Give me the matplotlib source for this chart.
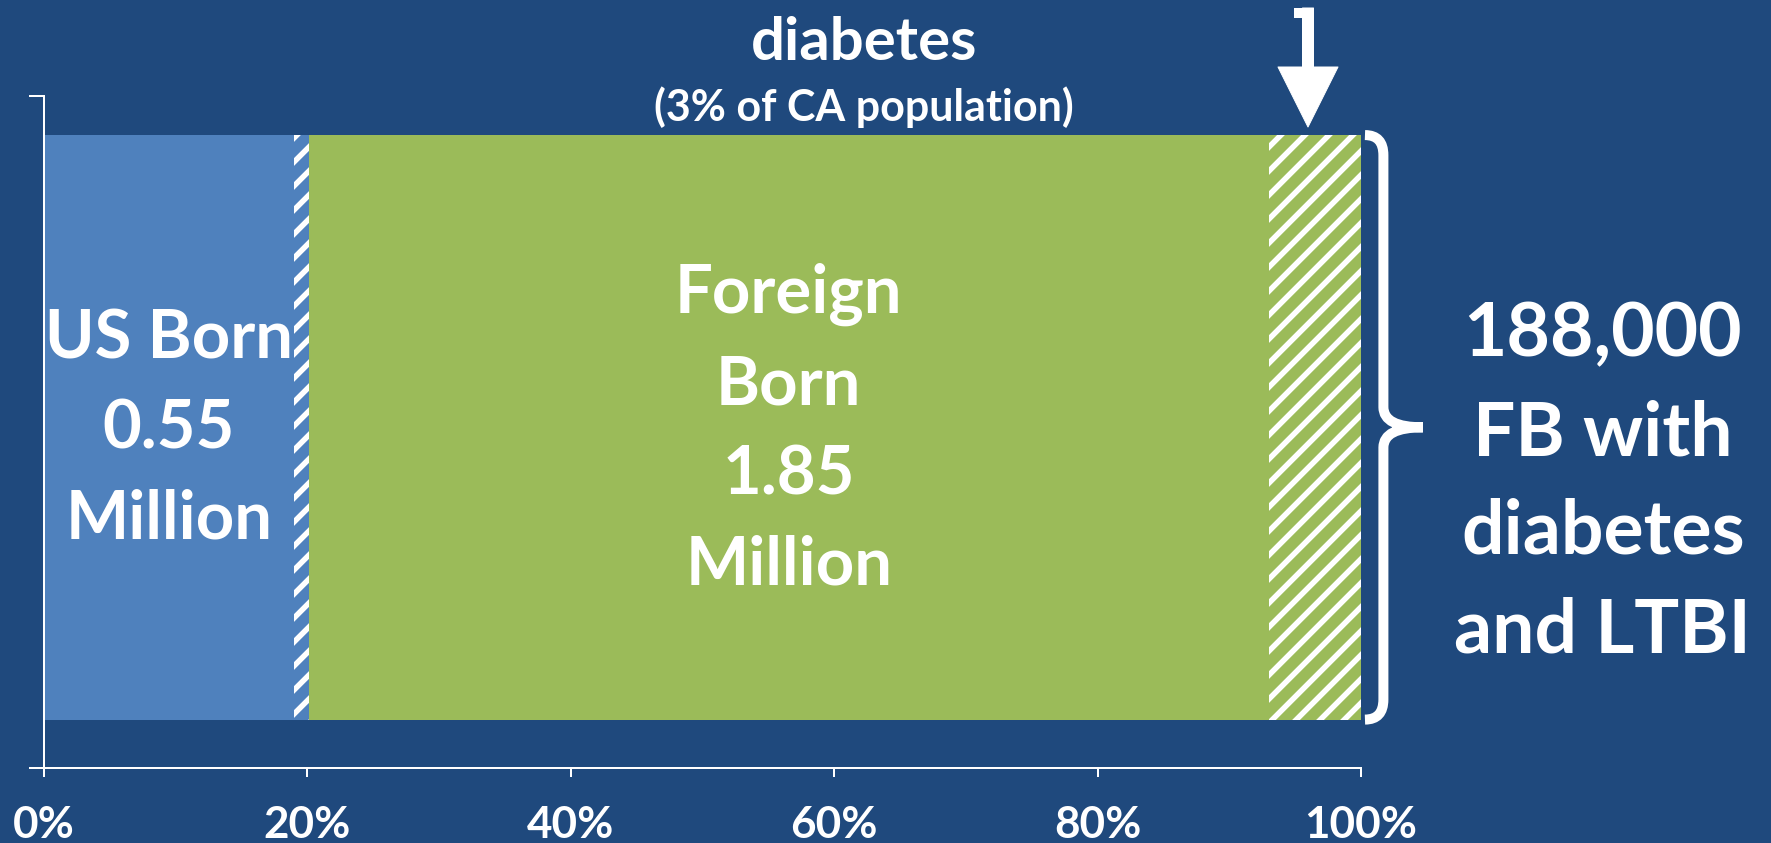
import numpy as np
import matplotlib.pyplot as plt
import matplotlib.transforms as mtransforms
from matplotlib.path import Path
from matplotlib.patches import PathPatch

plt.rcParams['font.family'] = ['Lato', 'DejaVu Sans']
plt.rcParams['font.weight'] = 'bold'
plt.rcParams['hatch.color'] = 'white'
plt.rcParams['hatch.linewidth'] = 5.5

navy = '#1F497D'

# share of the bar taken by each piece
seg_names = ['US born', 'US born with diabetes', 'Foreign born', 'FB with diabetes']
seg_share = [0.190, 0.011, 0.729, 0.070]
seg_colors = ['#4F81BD', '#4F81BD', '#9BBB59', '#9BBB59']
seg_hatch = [None, '/', None, '/']
bar_labels = ['US Born\n0.55\nMillion', '', 'Foreign\nBorn\n1.85\nMillion', '']

xticks = [0, 0.2, 0.4, 0.6, 0.8, 1.0]
xtick_labels = ['0%', '20%', '40%', '60%', '80%', '100%']

side_label = '188,000\nFB with\ndiabetes\nand LTBI'
top_label = 'diabetes'
top_sublabel = '(3% of CA population)'

bar_y = 0.507
bar_h = 0.87

fig = plt.figure(figsize=(1771 / 72, 843 / 72), dpi=72, facecolor=navy)
ax = fig.add_axes([0.0248, 0.089, 0.7437, 0.797], facecolor=navy)

lefts = np.concatenate([[0], np.cumsum(seg_share)[:-1]])
for left, w, c, h, lab in zip(lefts, seg_share, seg_colors, seg_hatch, bar_labels):
    if h:
        ax.barh(bar_y, w, left=left, height=bar_h, color=c, edgecolor='white',
                hatch=h, linewidth=0)
    else:
        ax.barh(bar_y, w, left=left, height=bar_h, color=c, linewidth=0)
    if lab:
        ax.text(left + w / 2, bar_y - 0.003, lab, ha='center', va='center',
                color='white', fontsize=67, fontweight='bold', linespacing=1.56)

ax.set_xlim(0, 1)
ax.set_ylim(0, 1)
ax.set_xticks(xticks)
ax.set_xticklabels(xtick_labels)
ax.set_yticks([0, 1])
ax.set_yticklabels([])
ax.tick_params(axis='x', colors='white', length=9, width=2, pad=28,
               labelsize=44)
ax.tick_params(axis='y', colors='white', length=15, width=2)
for s in ['top', 'right']:
    ax.spines[s].set_visible(False)
for s in ['left', 'bottom']:
    ax.spines[s].set_color('white')
    ax.spines[s].set_linewidth(2)

# curly brace to the right of the bar
trans = mtransforms.blended_transform_factory(ax.transAxes, ax.transData)
top = bar_y + bar_h / 2
bot = bar_y - bar_h / 2
xs, xv, xt = 1.003, 1.017, 1.047
r = 0.03
verts = [(xs, top), (xv, top), (xv, top - r), (xv, bar_y + r),
         (xv, bar_y), (xt, bar_y),
         (xt, bar_y), (xv, bar_y), (xv, bar_y - r), (xv, bot + r),
         (xv, bot), (xs, bot)]
codes = [Path.MOVETO, Path.CURVE3, Path.CURVE3, Path.LINETO,
         Path.CURVE3, Path.CURVE3,
         Path.MOVETO, Path.CURVE3, Path.CURVE3, Path.LINETO,
         Path.CURVE3, Path.CURVE3]
brace = PathPatch(Path(verts, codes), transform=trans, fill=False,
                  edgecolor='white', linewidth=10, capstyle='butt',
                  joinstyle='round', clip_on=False)
ax.add_patch(brace)

fig.text(0.905, 0.427, side_label, ha='center', va='center', color='white',
         fontsize=75, fontweight='bold', linespacing=1.53)

fig.text(0.488, 0.949, top_label, ha='center', va='center', color='white',
         fontsize=60, fontweight='bold')
fig.text(0.488, 0.873, top_sublabel, ha='center', va='center', color='white',
         fontsize=43, fontweight='bold')

# arrow pointing down at the FB with diabetes piece, with the small hook on top
fig.lines.append(plt.Line2D([1294, 1308], [843 - 13, 843 - 13],
                            transform=None, color='white', linewidth=10,
                            solid_capstyle='butt'))
ax.annotate('', xy=(1308, 843 - 127), xytext=(1308, 843 - 8),
            xycoords='figure pixels', textcoords='figure pixels',
            arrowprops=dict(arrowstyle='simple,head_length=6,head_width=6.0,tail_width=1.1',
                            mutation_scale=10, color='white', shrinkA=0, shrinkB=0))

fig.savefig('out.png', dpi=72, facecolor=navy)
